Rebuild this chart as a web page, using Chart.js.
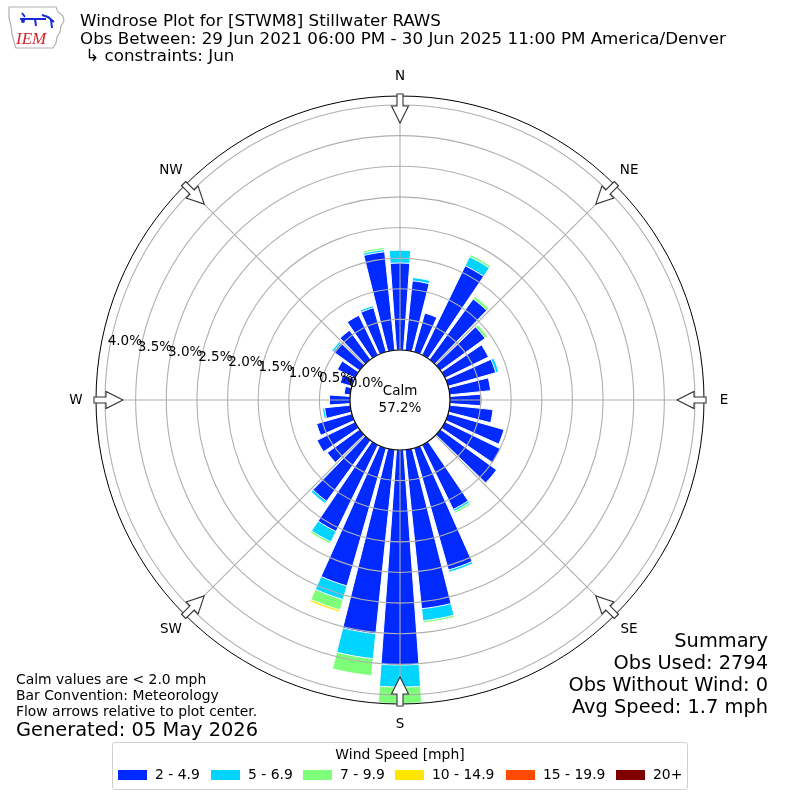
<!DOCTYPE html>
<html><head><meta charset="utf-8">
<script src="https://cdn.jsdelivr.net/npm/chart.js@4.4.1/dist/chart.umd.min.js"></script>
<style>
body{margin:0;background:#fff;font-family:"DejaVu Sans",sans-serif;}
#wrap{position:relative;width:800px;height:800px;overflow:hidden;background:#fff;}
canvas{position:absolute;left:0;top:0;}
.t{position:absolute;white-space:pre;color:#000;line-height:1;}
.r{text-align:right;}
#legend{position:absolute;left:112px;top:742px;width:574px;height:46px;border:1px solid #d0d0d0;border-radius:3px;background:#fff;}
.sw{position:absolute;width:29px;height:10px;}
</style></head><body>
<div id="wrap">
<canvas id="c" width="800" height="800"></canvas>
<svg style="position:absolute;left:6px;top:4px" width="62" height="48" viewBox="0 0 62 48">
  <path d="M3 3 L50 3 L52 8 L57 12 L58 17 L55 22 L54 28 L51 33 L50 39 L47 44 L10 44 L8 38 L6 30 L5 22 L3 14 Z" fill="#fff" stroke="#b0b0b0" stroke-width="1.2"/>
  <path d="M16 9 L19 13 M14 15 L40 15 M29 15 L30 22 M36 11 L42 13 L48 18 M45 16 L46 24" stroke="#1a2bd6" stroke-width="2" fill="none"/>
  <circle cx="17" cy="17" r="2" fill="#1a2bd6"/>
  <text x="10" y="40" font-family="Liberation Serif" font-style="italic" font-size="17" fill="#d4242a">IEM</text>
</svg>
<div class="t" id="title1" style="left:80px;top:11.9px;font-size:16.7px">Windrose Plot for [STWM8] Stillwater RAWS</div>
<div class="t" id="title2" style="left:80px;top:29.9px;font-size:16.7px">Obs Between: 29 Jun 2021 06:00 PM - 30 Jun 2025 11:00 PM America/Denver</div>
<div class="t" id="title3" style="left:80px;top:46.9px;font-size:16.7px"> ↳ constraints: Jun</div>
<div class="t" style="left:16px;top:673.3px;font-size:13.9px">Calm values are &lt; 2.0 mph</div>
<div class="t" style="left:16px;top:689.3px;font-size:13.9px">Bar Convention: Meteorology</div>
<div class="t" style="left:16px;top:705.3px;font-size:13.9px">Flow arrows relative to plot center.</div>
<div class="t" style="left:16px;top:719.6px;font-size:19.4px">Generated: 05 May 2026</div>
<div class="t r" style="right:32px;top:630.6px;font-size:19.4px">Summary</div>
<div class="t r" style="right:32px;top:652.6px;font-size:19.4px">Obs Used: 2794</div>
<div class="t r" style="right:32px;top:674.6px;font-size:19.4px">Obs Without Wind: 0</div>
<div class="t r" style="right:32px;top:696.6px;font-size:19.4px">Avg Speed: 1.7 mph</div>
<div id="legend"></div>
</div>
<script>
// ---- data (percent of all observations) ----
const directions = [0,10,20,30,40,50,60,70,80,90,100,110,120,130,140,150,160,170,180,190,200,210,220,230,240,250,260,270,280,290,300,310,320,330,340,350];
const speedBins = ['2 - 4.9','5 - 6.9','7 - 9.9','10 - 14.9','15 - 19.9','20+'];
const binColors = ['#002aff','#00d4ff','#7dff7a','#ffe600','#ff4a00','#800000'];
const pct2to5   = [1.42,1.14,0.66,1.62,1.22,0.90,0.79,0.81,0.67,0.52,0.71,0.95,1.01,1.13,0.00,1.17,2.07,2.61,3.51,3.02,2.34,1.57,1.225,0.65,0.69,0.60,0.42,0.335,0.10,0.20,0.32,0.52,0.59,0.72,0.75,1.616];
const pct5to7   = [0.21,0.054,0,0.165,0,0,0,0.05,0,0,0,0,0,0,0,0.036,0.04,0.196,0.36,0.41,0.23,0.19,0.045,0,0,0,0.036,0,0,0,0,0.036,0,0,0.036,0.036];
const pct7to10  = [0,0,0,0.04,0.05,0.05,0,0,0,0,0,0,0,0,0,0.036,0,0.036,0.27,0.28,0.18,0.036,0,0,0,0,0,0,0,0,0,0,0,0,0,0.036];
const pct10to15 = [0,0,0,0,0,0,0,0,0,0,0,0,0,0,0,0,0,0,0,0,0.036,0,0,0,0,0,0,0,0,0,0,0,0,0,0,0];
const pct15to20 = [0,0,0,0,0,0,0,0,0,0,0,0,0,0,0,0,0,0,0,0,0,0,0,0,0,0,0,0,0,0,0,0,0,0,0,0];
const pct20plus = [0,0,0,0,0,0,0,0,0,0,0,0,0,0,0,0,0,0,0,0,0,0,0,0,0,0,0,0,0,0,0,0,0,0,0,0];
const calmLabel = 'Calm';
const calmPct = 57.2;
const radialTicks = [0,0.5,1.0,1.5,2.0,2.5,3.0,3.5,4.0];
const compassLabels = ['N','NE','E','SE','S','SW','W','NW'];
const axisMin = -0.8163, axisMax = 4.147;

// ---- build ----
const barDeg = 8.2, gapDeg = 1.8;
const bins = [pct2to5,pct5to7,pct7to10,pct10to15,pct15to20,pct20plus];
const labels = [];
directions.forEach(d => { labels.push(d + '°'); labels.push(''); });
const datasets = bins.map((b, k) => {
  const data = [];
  directions.forEach((d, i) => {
    let cum = 0;
    for (let j = 0; j <= k; j++) cum += bins[j][i];
    data.push(b[i] > 0 ? cum : 0);
    data.push(0);
  });
  return {
    label: speedBins[k], data,
    backgroundColor: c => c.dataIndex % 2 ? 'rgba(0,0,0,0)' : binColors[k],
    borderColor: '#ffffff',
    borderWidth: c => c.dataIndex % 2 ? 0 : 1,
    angle: c => c.dataIndex % 2 ? gapDeg : barDeg
  };
});

const rad = a => a * Math.PI / 180;
const overlay = {
  id: 'overlay',
  afterDatasetsDraw(chart) {
    const s = chart.scales.r, ctx = chart.ctx;
    const cx = s.xCenter, cy = s.yCenter, Rmax = s.drawingArea;
    const R = v => s.getDistanceFromCenterForValue(v);
    const P = (th, r, w) => [cx + r * Math.sin(rad(th)) + w * Math.cos(rad(th)), cy - r * Math.cos(rad(th)) + w * Math.sin(rad(th))];
    ctx.save();
    ctx.strokeStyle = '#b0b0b0'; ctx.lineWidth = 1.1;
    radialTicks.forEach(v => { ctx.beginPath(); ctx.arc(cx, cy, R(v), 0, 2 * Math.PI); ctx.stroke(); });
    for (let i = 0; i < 8; i++) {
      const p = P(i * 45, Rmax, 0);
      ctx.beginPath(); ctx.moveTo(cx, cy); ctx.lineTo(p[0], p[1]); ctx.stroke();
    }
    ctx.strokeStyle = '#000'; ctx.lineWidth = 1;
    ctx.beginPath(); ctx.arc(cx, cy, Rmax, 0, 2 * Math.PI); ctx.stroke();
    // calm circle
    ctx.fillStyle = '#fff'; ctx.strokeStyle = '#000'; ctx.lineWidth = 1.2;
    ctx.beginPath(); ctx.arc(cx, cy, R(0), 0, 2 * Math.PI); ctx.fill(); ctx.stroke();
    // arrows
    const shape = [[-3,Rmax+2],[3,Rmax+2],[3,Rmax-10],[8.5,Rmax-10],[0,Rmax-27],[-8.5,Rmax-10],[-3,Rmax-10]];
    ctx.fillStyle = '#fff'; ctx.strokeStyle = '#333'; ctx.lineWidth = 1.1; ctx.lineJoin = 'miter';
    for (let i = 0; i < 8; i++) {
      ctx.beginPath();
      shape.forEach((q, j) => { const p = P(i * 45, q[1], q[0]); if (j) ctx.lineTo(p[0], p[1]); else ctx.moveTo(p[0], p[1]); });
      ctx.closePath(); ctx.fill(); ctx.stroke();
    }
    ctx.fillStyle = '#000';
    ctx.textAlign = 'center'; ctx.textBaseline = 'middle';
    ctx.font = '13.5px "DejaVu Sans"';
    ctx.fillText(calmLabel, cx, cy - 9);
    ctx.fillText(calmPct.toFixed(1) + '%', cx, cy + 8);
    ctx.font = '13.5px "DejaVu Sans"';
    radialTicks.forEach(v => {
      const r = R(v);
      ctx.fillText(v.toFixed(1) + '%', cx - r * Math.cos(rad(9.8)) + 15.5, cy - r * Math.sin(rad(9.8)) - 8);
    });
    ctx.font = '13.5px "DejaVu Sans"';
    compassLabels.forEach((l, i) => { const p = P(i * 45, Rmax + 20, 0); ctx.fillText(l, p[0], p[1]); });
    ctx.restore();
  }
};

new Chart(document.getElementById('c'), {
  type: 'polarArea',
  data: { labels, datasets },
  options: {
    responsive: false, animation: false, devicePixelRatio: 1,
    layout: { padding: { left: 96, right: 96, top: 96, bottom: 96 } },
    plugins: { legend: { display: false }, tooltip: { enabled: false } },
    scales: {
      r: {
        min: axisMin, max: axisMax, startAngle: -barDeg / 2,
        ticks: { display: false }, grid: { display: false },
        angleLines: { display: false }, pointLabels: { display: false }
      }
    }
  },
  plugins: [overlay]
});

// legend (HTML)
const lg = document.getElementById('legend');
const lt = document.createElement('div');
lt.className = 't'; lt.style.cssText = 'left:0;width:574px;text-align:center;top:4.5px;font-size:13.9px';
lt.textContent = 'Wind Speed [mph]';
lg.appendChild(lt);
const swX = [5, 98, 190, 282, 393, 503];
speedBins.forEach((b, i) => {
  const sw = document.createElement('div');
  sw.className = 'sw'; sw.style.left = swX[i] + 'px'; sw.style.top = '27px'; sw.style.background = binColors[i];
  lg.appendChild(sw);
  const tx = document.createElement('div');
  tx.className = 't'; tx.style.left = (swX[i] + 37) + 'px'; tx.style.top = '25px'; tx.style.fontSize = '13.9px';
  tx.textContent = b;
  lg.appendChild(tx);
});
</script>
</body></html>
